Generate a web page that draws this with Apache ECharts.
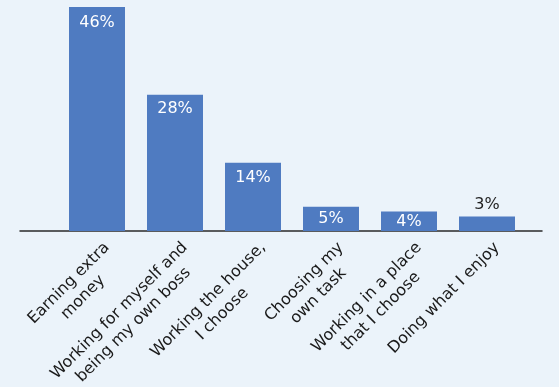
<!DOCTYPE html>
<html>
<head>
<meta charset="utf-8">
<script src="https://cdn.jsdelivr.net/npm/echarts@6/dist/echarts.min.js"></script>
<style>
html,body{margin:0;padding:0;background:#EBF3FA;}
#c{width:559px;height:387px;}
</style>
</head>
<body>
<div id="c"></div>
<script>
const categories = ['Earning extra\nmoney', 'Working for myself and\nbeing my own boss', 'Working the house,\nI choose', 'Choosing my\nown task', 'Working in a place\nthat I choose', 'Doing what I enjoy'];
const values = [46, 28, 14, 5, 4, 3];
const valueLabels = ['46%', '28%', '14%', '5%', '4%', '3%'];

const FONT = 'DejaVu Sans';
const labelGap = [8, 6, 7, 4, 2, 4];
const chart = echarts.init(document.getElementById('c'), null, {renderer: 'canvas'});

const seriesData = values.map((v, i) => {
  const d = {value: v, label: {distance: labelGap[i]}};
  if (i === values.length - 1) {
    d.label = {position: 'top', distance: labelGap[i], color: '#1f1f1f'};
  }
  return d;
});

chart.setOption({
  backgroundColor: '#EBF3FA',
  animation: false,
  grid: [
    {left: 58, right: 33, top: 7, bottom: 156, outerBoundsMode: 'none', containLabel: false},
    {left: 61, right: 30, top: 7, bottom: 156, outerBoundsMode: 'none', containLabel: false},
    {left: 20, right: 17, top: 7, bottom: 156, outerBoundsMode: 'none', containLabel: false}
  ],
  xAxis: [
    {type: 'category', gridIndex: 0, data: categories, axisLine: {show: false}, axisTick: {show: false}, axisLabel: {show: false}},
    {type: 'category', gridIndex: 1, data: categories, axisLine: {show: false}, axisTick: {show: false},
      axisLabel: {
        show: true, rotate: 45, margin: 7, interval: 0, align: 'right', verticalAlign: 'top',
        formatter: v => v.split('\n').map(l => '{c|' + l + '}').join('\n'),
        rich: {c: {align: 'center', fontSize: 16, fontFamily: FONT, lineHeight: 20, color: '#1a1a1a'}}
      }},
    {type: 'value', gridIndex: 2, min: 0, max: 1, axisLine: {show: true, lineStyle: {color: '#2a2a2a', width: 1.5}},
      axisTick: {show: false}, axisLabel: {show: false}, splitLine: {show: false}}
  ],
  yAxis: [
    {type: 'value', gridIndex: 0, min: 0, max: 46, show: false},
    {type: 'value', gridIndex: 1, min: 0, max: 46, show: false},
    {type: 'value', gridIndex: 2, min: 0, max: 1, show: false}
  ],
  series: [{
    type: 'bar',
    xAxisIndex: 0, yAxisIndex: 0,
    data: seriesData,
    barWidth: 56,
    itemStyle: {color: '#4F7BC1'},
    label: {
      show: true, position: 'insideTop',
      formatter: p => valueLabels[p.dataIndex],
      color: '#ffffff', fontSize: 16, fontFamily: FONT
    }
  }]
});
</script>
</body>
</html>
